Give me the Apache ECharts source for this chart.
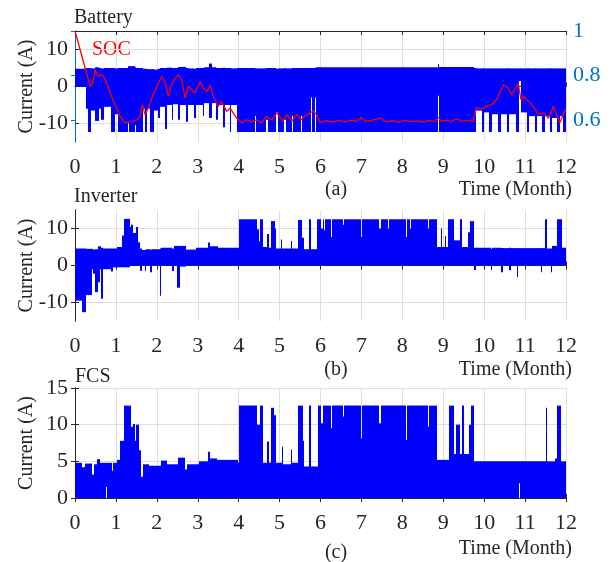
<!DOCTYPE html>
<html>
<head>
<meta charset="utf-8">
<style>
html, body { margin: 0; padding: 0; background: #fff; }
#main { width: 612px; height: 562px; }
</style>
</head>
<body>
<div id="main"></div>
<script src="https://cdn.jsdelivr.net/npm/echarts@6/dist/echarts.min.js"></script>
<script>

// each row: [start month, low current, high current]; a row lasts until the next one starts
var batteryBands = [
    [0, 0, 4.8], [0.28, -6, 5.0], [0.32, -12.3, 5.0], [0.40, -6.5, 4.9], [0.50, -9.3, 5.2],
    [0.58, -6, 5.0], [0.64, -9, 4.9], [0.70, -5.5, 5.0], [0.88, -12.3, 5.0], [0.98, -7.5, 4.9],
    [1.06, -12.3, 5.0], [1.30, -10, 5.5], [1.33, -12.3, 5.5], [1.46, -10.5, 5.2], [1.49, -12.3, 5.0],
    [1.65, -6, 4.8], [1.72, -12.3, 4.8], [1.75, -6, 4.7], [1.84, -12.3, 4.7], [1.94, -6.5, 4.6],
    [2.04, -8.5, 4.8], [2.08, -5.5, 5.0], [2.20, -11.5, 5.0], [2.26, -5, 5.1], [2.36, -9, 5.0],
    [2.40, -4.8, 5.0], [2.52, -9, 5.3], [2.56, -5, 5.3], [2.72, -9.5, 5.0], [2.77, -5, 4.9],
    [2.92, -8.5, 4.8], [2.96, -5, 5.0], [3.12, -8, 5.0], [3.16, -4.5, 5.2], [3.28, -8.5, 6.2],
    [3.34, -4.5, 5.2], [3.45, -9, 5.0], [3.50, -5, 5.0], [3.62, -11, 5.1], [3.66, -5, 5.0],
    [3.78, -12.3, 5.0], [3.82, -5, 4.9], [3.96, -12.3, 5.0], [4.40, -8, 4.9], [4.43, -12.3, 4.9],
    [4.68, -9, 5.0], [4.71, -12.3, 5.0], [4.92, -7, 4.8], [4.95, -12.3, 4.9], [5.12, -9, 5.0],
    [5.15, -12.3, 4.9], [5.30, -8, 5.0], [5.33, -12.3, 5.0], [5.52, -8, 5.0], [5.55, -12.3, 5.0],
    [5.76, -3, 5.0], [5.79, -12.3, 5.0], [5.87, -3, 5.1], [5.90, -12.3, 5.2], [8.86, -2.5, 6.0],
    [8.89, -12.3, 5.3], [9.74, -12.3, 5.0], [9.80, -6.5, 4.9], [9.95, -12.3, 4.9], [10.00, -7, 4.9],
    [10.12, -12.3, 4.9], [10.18, -7.5, 4.9], [10.35, -12.3, 4.9], [10.42, -7.5, 4.9], [10.55, -12.3, 4.9],
    [10.60, -7.5, 4.9], [10.78, -12.3, 4.9], [10.86, 1.5, 4.9], [10.89, -7, 4.9], [11.05, -12.3, 4.9],
    [11.10, -8, 4.9], [11.25, -12.3, 4.9], [11.30, -8, 4.9], [11.42, -12.3, 4.9], [11.48, -8, 4.9],
    [11.60, -12.3, 4.9], [11.66, -8.5, 4.9], [11.78, -12.3, 4.9], [11.85, -8, 4.9], [11.92, -12.3, 4.9]
];

var inverterBands = [
    [0, -9.5, 4.6], [0.18, -12.6, 4.6], [0.27, -8, 4.5], [0.41, -1, 4.5], [0.45, -2.2, 4.3],
    [0.49, -7.2, 4.4], [0.55, -1.5, 4.4], [0.57, -4.5, 5.2], [0.61, -1, 5.2], [0.63, -9, 4.8],
    [0.68, -1, 4.6], [0.89, -1.6, 4.6], [0.92, -0.5, 4.6], [1.02, -0.5, 5.0], [1.14, -0.5, 8.1],
    [1.20, -0.5, 12.6], [1.34, 0, 10.4], [1.38, 0, 11], [1.42, 0, 8.8], [1.49, 0, 10.4],
    [1.55, 0, 6.3], [1.59, -1.4, 4.6], [1.63, 0, 4.2], [1.70, -1.4, 4.2], [1.73, 0, 4.4],
    [1.84, -1.8, 4.3], [1.88, 0, 4.4], [2.08, -8.2, 4.6], [2.11, 0, 4.8], [2.38, -1.5, 4.6],
    [2.42, 0, 5.3], [2.50, -6, 5.3], [2.57, -0.3, 5.3], [2.72, 0, 4.3], [2.95, 0, 4.8],
    [3.25, 0, 6.2], [3.30, 0, 5.2], [3.50, 0, 4.8], [4.02, 0, 12.5], [4.46, 0, 9.8],
    [4.50, 0, 6.5], [4.53, 0, 12.5], [4.59, 0, 5], [4.70, 0, 8.5], [4.74, 0, 4.8],
    [4.79, 0, 12], [4.88, 0, 10], [4.92, 0, 4.6], [5.03, 0, 7], [5.06, 0, 4.6],
    [5.28, 0, 6.6], [5.31, 0, 4.6], [5.45, 0, 12.3], [5.56, 0, 7.5], [5.60, 0, 4.4],
    [5.73, 0, 12.5], [5.78, 0, 4.4], [5.92, 0, 12.5], [6.02, 0, 10], [6.05, 0, 12.5],
    [6.09, 0, 9.5], [6.12, 0, 12.5], [6.26, 0, 7.7], [6.29, 0, 12.5], [6.55, 0, 11],
    [6.58, 0, 12.5], [6.99, 0, 7.7], [7.02, 0, 12.5], [7.44, 0, 10], [7.47, 0, 12.5],
    [7.64, 0, 10], [7.67, 0, 12.5], [8.09, 0, 7.7], [8.12, 0, 12.5], [8.19, 0, 10],
    [8.22, 0, 12.5], [8.63, 0, 10], [8.66, 0, 12.5], [8.84, 0, 5], [8.94, 0, 10],
    [8.97, 0, 5], [9.04, 0, 8], [9.07, 0, 5], [9.12, 0, 12.5], [9.26, 0, 6.8],
    [9.42, 0, 12.5], [9.46, 0, 5], [9.61, 0, 9], [9.66, 0, 12], [9.74, -1.2, 4.8],
    [9.79, 0, 4.8], [10.16, -1.3, 4.5], [10.20, 0, 4.8], [10.41, -1.8, 4.7], [10.45, 0, 4.7],
    [10.61, -1.3, 4.8], [10.65, 0, 4.7], [10.80, -3.2, 4.7], [10.83, 0, 4.7], [11.38, -1.8, 4.7],
    [11.42, 0, 4.7], [11.49, 0, 12.5], [11.53, 0, 4.6], [11.63, -1.8, 4.6], [11.67, 0, 5.3],
    [11.78, 0, 12.5], [11.90, 0, 4.8]
];

var fcsBands = [
    [0, 0, 4.8], [0.18, 0, 4.2], [0.24, 0, 4.7], [0.42, 0, 3.2], [0.46, 0, 4.6],
    [0.53, 0, 5.3], [0.62, 0, 4.8], [0.76, 1.5, 4.8], [0.78, 0, 4.8], [0.90, 0, 3.7],
    [0.94, 0, 4.8], [1.02, 0, 5.2], [1.10, 0, 7.8], [1.19, 0, 12.6], [1.36, 0, 9.7],
    [1.41, 0, 10.1], [1.46, 0, 7.8], [1.49, 0, 10], [1.56, 0, 6.5], [1.61, 0, 2.9],
    [1.65, 0, 4.6], [1.80, 0, 4.4], [2.10, 0, 5.1], [2.25, 0, 4.6], [2.52, 0, 5.5],
    [2.70, 0, 3.9], [2.74, 0, 4.6], [3.02, 0, 5.0], [3.24, 0, 6.3], [3.29, 0, 5.4],
    [3.48, 0, 5.2], [3.98, 0, 4.8], [4.02, 0, 12.6], [4.46, 0, 10], [4.52, 0, 12.6],
    [4.59, 0, 4.8], [4.70, 0, 7.7], [4.74, 0, 4.8], [4.79, 0, 12.3], [4.87, 0, 11.3],
    [4.91, 0, 4.8], [5.06, 0, 7], [5.09, 0, 4.6], [5.28, 0, 6.6], [5.31, 0, 4.8],
    [5.46, 0, 12.6], [5.57, 0, 7.8], [5.60, 0, 4.3], [5.73, 0, 12.6], [5.78, 0, 4.3],
    [5.93, 0, 12.6], [6.02, 0, 10.2], [6.05, 0, 12.6], [6.26, 0, 9.5], [6.29, 0, 12.6],
    [6.55, 0, 11.1], [6.58, 0, 12.6], [6.99, 0, 8.1], [7.02, 0, 12.6], [7.44, 0, 10.2],
    [7.47, 0, 12.6], [8.09, 0, 7.9], [8.12, 0, 12.6], [8.63, 0, 9.7], [8.66, 0, 12.6],
    [8.84, 0, 5.2], [9.15, 0, 12.6], [9.27, 0, 6], [9.32, 0, 10], [9.42, 0, 6],
    [9.46, 0, 12.6], [9.50, 0, 6], [9.62, 0, 10], [9.67, 0, 12.6], [9.74, 0, 5],
    [10.85, 2, 5], [10.87, 0, 5], [11.50, 0, 12.3], [11.53, 0, 5], [11.72, 0, 5.4],
    [11.79, 0, 12.6], [11.89, 0, 5]
];

var socTime = [0, 0.37, 0.43, 0.49, 0.57, 0.65, 0.73, 0.86, 0.98, 1.1, 1.22, 1.34, 1.43, 1.51,
    1.59, 1.65, 1.71, 1.79, 1.91, 2.04, 2.12, 2.2, 2.28, 2.36, 2.44, 2.53, 2.61, 2.69, 2.77,
    2.85, 2.93, 3.06, 3.14, 3.22, 3.3, 3.38, 3.5, 3.58, 3.71, 3.79, 3.95, 4.07, 4.2, 4.32,
    4.44, 4.56, 4.68, 4.81, 4.93, 5.08, 5.17, 5.3, 5.42, 5.54, 5.62, 5.72, 5.82, 5.9, 5.99,
    6.15, 6.3, 6.45, 6.6, 6.75, 6.9, 7.0, 7.1, 7.25, 7.45, 7.6, 7.75, 7.9, 8.05, 8.2, 8.35,
    8.5, 8.65, 8.8, 8.88, 8.95, 9.1, 9.2, 9.33, 9.45, 9.6, 9.73, 9.8, 9.95, 10.06, 10.18,
    10.3, 10.47, 10.59, 10.67, 10.79, 10.83, 10.9, 10.96, 11.08, 11.2, 11.32, 11.45, 11.57,
    11.69, 11.85, 11.98, 12];
var socValue = [1.0, 0.75, 0.765, 0.825, 0.795, 0.805, 0.787, 0.72, 0.668, 0.616, 0.586, 0.593,
    0.594, 0.6, 0.616, 0.668, 0.623, 0.653, 0.713, 0.765, 0.795, 0.772, 0.705, 0.757, 0.787,
    0.802, 0.78, 0.698, 0.75, 0.735, 0.72, 0.772, 0.742, 0.727, 0.757, 0.705, 0.66, 0.683,
    0.638, 0.653, 0.608, 0.586, 0.6, 0.59, 0.6, 0.587, 0.616, 0.6, 0.631, 0.594, 0.624, 0.594,
    0.624, 0.6, 0.616, 0.628, 0.64, 0.624, 0.587, 0.596, 0.59, 0.597, 0.591, 0.598, 0.592,
    0.61, 0.592, 0.597, 0.608, 0.591, 0.596, 0.59, 0.597, 0.592, 0.595, 0.59, 0.596, 0.592,
    0.61, 0.593, 0.598, 0.591, 0.606, 0.593, 0.597, 0.592, 0.654, 0.65, 0.66, 0.668, 0.69,
    0.758, 0.743, 0.713, 0.75, 0.766, 0.69, 0.706, 0.684, 0.66, 0.624, 0.631, 0.607, 0.66,
    0.587, 0.646, 0.64];

var currentTicks = [-10, 0, 10];
var fcsTicks = [0, 5, 10, 15];
var socTicks = [0.6, 0.8, 1];

var BLUE = '#0000ff';
var RED = '#ff0000';
var SOC_AXIS = '#0072bd';
var INK = '#262626';
var GRID = '#dedede';
var FONT = 'Liberation Serif';

var chart = echarts.init(document.getElementById('main'));

function bandSeries(rows, xi, yi) {
    var data = rows.map(function (r, i) {
        var end = i + 1 < rows.length ? rows[i + 1][0] : 12;
        return [r[0], end, r[1], r[2]];
    });
    return {
        type: 'custom',
        xAxisIndex: xi,
        yAxisIndex: yi,
        silent: true,
        clip: true,
        encode: { x: [0, 1], y: [2, 3] },
        renderItem: function (params, api) {
            var a = api.coord([api.value(0), api.value(3)]);
            var b = api.coord([api.value(1), api.value(2)]);
            // snap to whole pixels so neighbouring blocks meet without seams
            var x0 = Math.round(a[0]);
            var x1 = Math.max(Math.round(b[0]), x0 + 1);
            return {
                type: 'rect',
                shape: { x: x0, y: a[1], width: x1 - x0, height: b[1] - a[1] },
                style: { fill: BLUE }
            };
        },
        data: data
    };
}

function bottomAxis(gi) {
    return {
        type: 'value', gridIndex: gi, position: 'bottom',
        min: 0, max: 12, interval: 1,
        axisLine: { lineStyle: { color: INK, width: 1 } },
        axisTick: { inside: true, length: 4, lineStyle: { color: INK } },
        axisLabel: { color: INK, fontFamily: FONT, fontSize: 22, margin: 14 },
        splitLine: { show: true, lineStyle: { color: GRID, width: 1 } }
    };
}

function topAxis(gi) {
    return {
        type: 'value', gridIndex: gi, position: 'top',
        min: 0, max: 12, interval: 1,
        axisLine: { lineStyle: { color: INK, width: 1 } },
        axisTick: { inside: true, length: 4, lineStyle: { color: INK } },
        axisLabel: { show: false },
        splitLine: { show: false }
    };
}

function leftAxis(gi, min, max, ticks) {
    return {
        type: 'value', gridIndex: gi, position: 'left',
        min: min, max: max,
        name: 'Current (A)', nameLocation: 'middle', nameGap: 38, nameMoveOverlap: false,
        nameTextStyle: { color: INK, fontFamily: FONT, fontSize: 20 },
        axisLine: { show: true, lineStyle: { color: INK, width: 1 } },
        axisTick: { show: true, inside: true, length: 4, customValues: ticks, lineStyle: { color: INK } },
        axisLabel: { color: INK, fontFamily: FONT, fontSize: 22, margin: 7, customValues: ticks },
        splitLine: { show: true, lineStyle: { color: GRID, width: 1 } }
    };
}

function rightBox(gi, min, max, ticks) {
    return {
        type: 'value', gridIndex: gi, position: 'right',
        min: min, max: max,
        axisLine: { show: true, lineStyle: { color: INK, width: 1 } },
        axisTick: { show: true, inside: true, length: 4, customValues: ticks, lineStyle: { color: INK } },
        axisLabel: { show: false },
        splitLine: { show: false }
    };
}

function label(text, x, y, align, color) {
    return {
        type: 'text', x: x, y: y, silent: true,
        style: {
            text: text, fill: color || INK, font: '20px "' + FONT + '"',
            align: align || 'left', verticalAlign: 'middle'
        }
    };
}

chart.setOption({
    animation: false,
    grid: [
        { left: 75, right: 46, top: 31, height: 111 },
        { left: 75, right: 46, top: 210, height: 111 },
        { left: 75, right: 46, top: 388, height: 110 }
    ],
    xAxis: [bottomAxis(0), bottomAxis(1), bottomAxis(2), topAxis(0), topAxis(1), topAxis(2)],
    yAxis: [
        leftAxis(0, -15, 15, currentTicks),
        {
            type: 'value', gridIndex: 0, position: 'right',
            min: 0.5, max: 1,
            axisLine: { show: true, lineStyle: { color: SOC_AXIS, width: 1 } },
            axisTick: { show: true, inside: true, length: 4, customValues: socTicks, lineStyle: { color: SOC_AXIS } },
            axisLabel: { color: SOC_AXIS, fontFamily: FONT, fontSize: 22, margin: 7, customValues: socTicks },
            splitLine: { show: false }
        },
        leftAxis(1, -15, 15, currentTicks),
        rightBox(1, -15, 15, currentTicks),
        leftAxis(2, 0, 15, fcsTicks),
        rightBox(2, 0, 15, fcsTicks)
    ],
    graphic: [
        label('Battery', 74, 18),
        label('SOC', 92, 50, 'left', RED),
        label('(a)', 336, 190, 'center'),
        label('Time (Month)', 572, 190, 'right'),
        label('Inverter', 74, 197),
        label('(b)', 336, 370, 'center'),
        label('Time (Month)', 572, 370, 'right'),
        label('FCS', 75, 377),
        label('(c)', 336, 553, 'center'),
        label('Time (Month)', 572, 549, 'right')
    ],
    series: [
        bandSeries(batteryBands, 0, 0),
        {
            type: 'line', xAxisIndex: 0, yAxisIndex: 1,
            showSymbol: false, silent: true,
            lineStyle: { color: RED, width: 1.3 },
            data: socTime.map(function (t, i) { return [t, socValue[i]]; }),
            z: 5
        },
        bandSeries(inverterBands, 1, 2),
        bandSeries(fcsBands, 2, 4)
    ]
});
</script>
</body>
</html>
